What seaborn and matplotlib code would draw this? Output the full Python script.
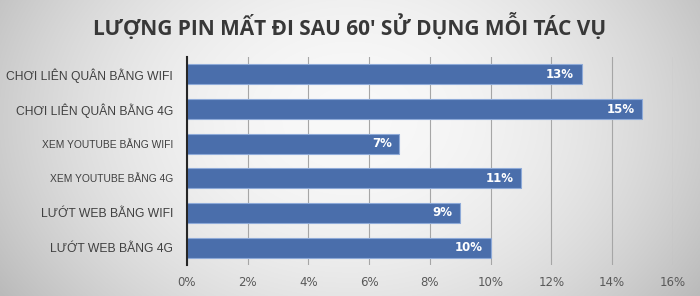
import numpy as np
import pandas as pd
import matplotlib
matplotlib.use("Agg")
import matplotlib.pyplot as plt
import seaborn as sns
from matplotlib.ticker import FuncFormatter

categories = ["CHƠI LIÊN QUÂN BẰNG WIFI", "CHƠI LIÊN QUÂN BẰNG 4G",
              "XEM YOUTUBE BẰNG WIFI", "XEM YOUTUBE BẰNG 4G",
              "LƯỚT WEB BẰNG WIFI", "LƯỚT WEB BẰNG 4G"]
values = [13, 15, 7, 11, 9, 10]
x_ticks = [0, 2, 4, 6, 8, 10, 12, 14, 16]
title = "LƯỢNG PIN MẤT ĐI SAU 60' SỬ DỤNG MỖI TÁC VỤ"

df = pd.DataFrame({"task": categories, "value": values})

fig = plt.figure(figsize=(7, 2.96), dpi=100)

# gradient background
bg = fig.add_axes([0, 0, 1, 1], zorder=-10)
yy, xx = np.mgrid[0:1:300j, 0:1:700j]
r = np.sqrt(((xx - 0.5) / 0.5) ** 2 + ((yy - 0.4) / 0.9) ** 2)
g = np.clip(0.975 - 0.17 * r ** 2, 0, 1)
bg.imshow(np.dstack([g, g, g]), aspect="auto", extent=[0, 1, 0, 1])
bg.axis("off")

ax = fig.add_axes([0.267, 0.105, 0.694, 0.702])
ax.patch.set_alpha(0)
sns.barplot(data=df, x="value", y="task", orient="h", color="#4a6eab",
            saturation=1, width=0.58, edgecolor="#8eaad8", linewidth=0.8, ax=ax)

ax.set_xlim(0, 16)
ax.set_xticks(x_ticks)
ax.xaxis.set_major_formatter(FuncFormatter(lambda v, p: f"{v:.0f}%"))
ax.grid(axis="x", color="#a6a6a6", linewidth=0.8)
ax.set_axisbelow(True)
for s in ["top", "right", "bottom"]:
    ax.spines[s].set_visible(False)
ax.spines["left"].set_color("#262626")
ax.spines["left"].set_linewidth(1.5)
ax.set_xlabel("")
ax.set_ylabel("")
ax.tick_params(axis="x", length=0, pad=8, labelsize=8.5, labelcolor="#595959")
ax.tick_params(axis="y", length=0, pad=10, labelcolor="#404040")
for i, lbl in enumerate(ax.get_yticklabels()):
    lbl.set_family("Liberation Sans")
    lbl.set_fontsize(7.4 if "YOUTUBE" in lbl.get_text() else 8.7)

for i, v in enumerate(values):
    ax.text(v - 0.25, i, f"{v}%", ha="right", va="center", color="white",
            fontsize=8.5, fontweight="bold")

fig.text(0.5, 0.912, title, ha="center", va="center", fontsize=15,
         fontweight="bold", color="#383838", family="Open Sans")

fig.savefig("out.png", dpi=100)
